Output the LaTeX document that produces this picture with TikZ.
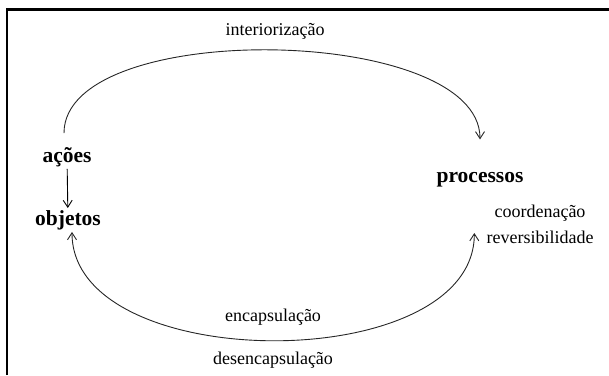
\documentclass[tikz,border=0pt]{standalone}
\usepackage{fontspec}
\setmainfont{Liberation Serif}
\usetikzlibrary{arrows.meta}
\tikzstyle{arrow} = [line width=0.9pt, black!85, ->, >={Straight Barb[length=7pt,width=9pt]}]
\tikzstyle{concept} = [inner sep=2pt, font=\fontsize{21.5}{25}\selectfont\bfseries]
\tikzstyle{label} = [inner sep=2pt, font=\fontsize{18}{21}\selectfont]

\begin{document}
\begin{tikzpicture}[x=1pt, y=1pt]
    \useasboundingbox (0,0) rectangle (609,375);
    \draw [line width=2.5pt] (7,0) -- (7,365.5) -- (609,365.5);

    \node (ac) [concept] at (67,218)  {ações};
    \node (ob) [concept] at (68,155)  {objetos};
    \node (pr) [concept] at (480,195) {processos};
    \node (co) [label]   at (540,162) {coordenação};
    \node (re) [label]   at (540,138) {reversibilidade};
    \node (in) [label]   at (275,344) {interiorização};
    \node (en) [label]   at (273,58)  {encapsulação};
    \node (de) [label]   at (273,15)  {desencapsulação};

    \draw [arrow, black] (ac) -- (ob);
    \draw [arrow] ([xshift=-3pt,yshift=12pt]ac.north) .. controls +(0,115) and +(0,115) .. ([yshift=31pt]pr.north);
    \draw [arrow, <->] ([xshift=4pt]ob.south) .. controls +(0,-144) and +(0,-144) .. ([xshift=-10pt,yshift=4pt]re.west);
\end{tikzpicture}
\end{document}
